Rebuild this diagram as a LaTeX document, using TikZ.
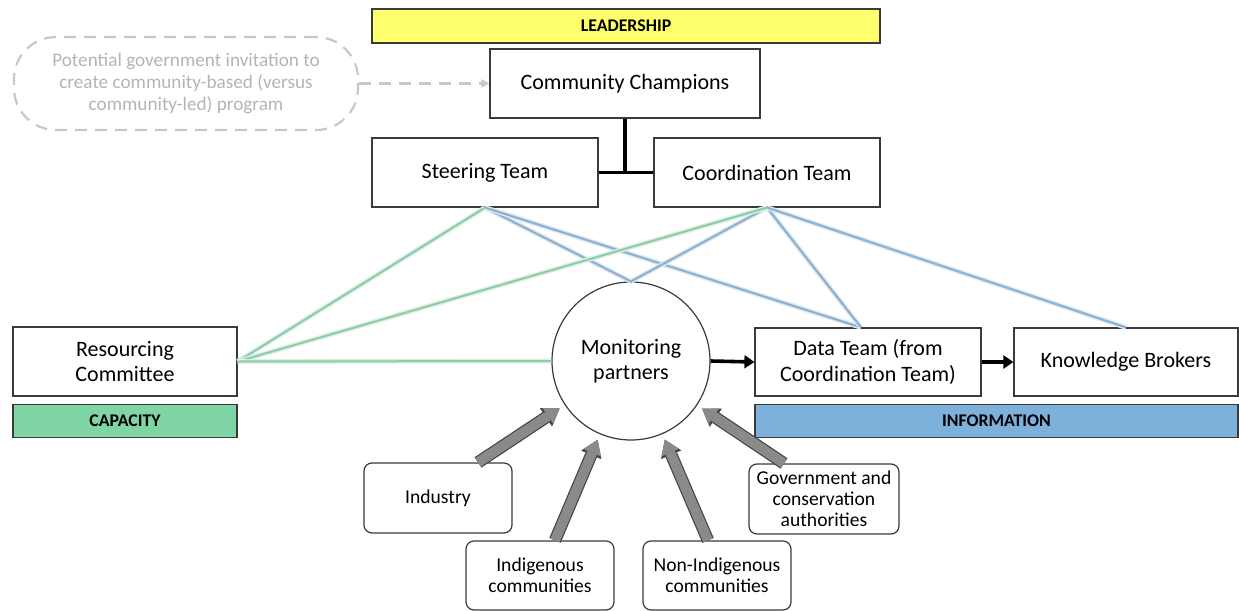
\documentclass[tikz,border=0pt]{standalone}
\usepackage{fontspec}
\setmainfont{Carlito}
\usetikzlibrary{arrows.meta,positioning,calc}
\definecolor{cLead}{HTML}{FFFF6E}
\definecolor{cCap}{HTML}{7FD5A3}
\definecolor{cInfo}{HTML}{7DB1DC}
\definecolor{cGreen}{HTML}{8CCCA6}
\definecolor{cBlue}{HTML}{8AB0D0}
\definecolor{cGhost}{HTML}{C8C8C8}
\definecolor{cGhostTxt}{HTML}{B4B4B4}
\definecolor{cArrow}{HTML}{8A8A8A}
\definecolor{cArrowEdge}{HTML}{444444}
\definecolor{cEdge}{HTML}{3A3A3A}

\begin{document}
\begin{tikzpicture}[
  x=0.5pt, y=-0.5pt,
  font=\fontsize{11}{12.6}\selectfont,
  box/.style={draw=cEdge, line width=0.6pt, fill=white, align=center, inner sep=2pt},
  bar/.style={draw=cEdge, line width=0.6pt, align=center, inner sep=0pt,
              minimum height=16.5pt, font=\fontsize{8.9}{10}\selectfont\bfseries},
  src/.style={box, rounded corners=4pt, minimum width=74pt, minimum height=35pt,
              font=\fontsize{9.8}{10.5}\selectfont},
  ghost/.style={draw=cGhost, line width=1.1pt, dash pattern=on 6pt off 4pt,
                rounded corners=21pt, text=cGhostTxt, align=center,
                minimum width=172pt, minimum height=46.5pt,
                font=\fontsize{9.6}{11.2}\selectfont},
  link/.style={line width=1.6pt, black},
  flow/.style={line width=1.8pt, black, -{Triangle[length=5pt,width=6.5pt]}},
  capline/.style={line width=1pt, draw=cGreen, preaction={draw=cGreen!30, line width=2.4pt}},
  infoline/.style={line width=1pt, draw=cBlue, preaction={draw=cBlue!30, line width=2.4pt}},
  bigarrow/.style={line width=5pt, draw=cArrow, shorten >=3pt,
                   -{Triangle[length=7pt,width=9.6pt,line width=0pt]},
                   preaction={draw=cArrowEdge, line width=6.2pt,
                              -{Triangle[length=8.2pt,width=11pt,line width=0pt]}}},
]
\useasboundingbox (0,0) rectangle (1239,611);

% ---------------- leadership ----------------
\node (lead) [bar, fill=cLead, minimum width=254pt, minimum height=17pt] at (626,26) {LEADERSHIP};
\node (cc) [box, minimum width=135pt, minimum height=34.5pt] at (625,83.5) {Community Champions};
\node (steer) [box, minimum width=113pt, minimum height=34.5pt] at (485,172.5) {Steering Team};
\node (coord) [box, minimum width=113pt, minimum height=34.5pt] at (767,172.5) {Coordination Team};

\coordinate (jn) at (cc.south |- steer.east);
\draw[link] (cc.south) -- (jn);
\draw[link] (steer.east) -- (coord.west);

% optional outside trigger
\node (invite) [ghost] at (186,83.5) {Potential government invitation to\\create community-based (versus\\community-led) program};
\draw[draw=cGhost, line width=1.1pt, dash pattern=on 6pt off 4pt,
      -{Triangle[length=4pt,width=4pt]}] (invite.east) -- (cc.west);

% ---------------- capacity ----------------
\node (rc) [box, minimum width=112pt, minimum height=34.5pt] at (125,361.5) {Resourcing\\Committee};
\node (cap) [bar, fill=cCap, minimum width=112pt, below=3.5pt of rc] {CAPACITY};

% ---------------- information ----------------
\node (dt) [box, minimum width=113pt, minimum height=34pt] at (868,362) {Data Team (from\\Coordination Team)};
\node (kb) [box, minimum width=112pt, minimum height=34pt] at (1126,362) {Knowledge Brokers};
\node (info) [bar, fill=cInfo, minimum width=241.5pt, below right=3.5pt and 0pt of dt.south west] {INFORMATION};

% ---------------- monitoring partners ----------------
\node (mp) [circle, draw=cEdge, line width=0.6pt, fill=white, minimum size=79pt, align=center]
  at (631,361) {Monitoring\\partners};

% links from the leadership teams
\coordinate (dtin) at ([xshift=-3.5pt]dt.north);
\draw[infoline] (steer.south) -- (mp.north);
\draw[infoline] (steer.south) -- (dtin);
\draw[infoline] (coord.south) -- (mp.north);
\draw[infoline] (coord.south) -- (dtin);
\draw[infoline] (coord.south) -- (kb.north);
\draw[capline] (rc.east) -- (steer.south);
\draw[capline] (rc.east) -- (coord.south);
\draw[capline] (rc.east) -- (mp.west);

\draw[flow] (mp.east) -- (dt.west);
\draw[flow] (dt.east) -- (kb.west);

% ---------------- partner sources ----------------
\node (ind)  [src] at (438,498) {Industry};
\node (indg) [src, minimum height=34.5pt] at (540,575.5) {Indigenous\\communities};
\node (nind) [src, minimum height=34.5pt] at (717,575.5) {Non-Indigenous\\communities};
\node (gov)  [src, minimum width=75pt] at (824,499) {Government and\\conservation\\authorities};

\draw[bigarrow] ([xshift=20pt]ind.north) -- (mp);
\draw[bigarrow] ([xshift=7.5pt]indg.north) -- (mp);
\draw[bigarrow] ([xshift=-4.5pt]nind.north) -- (mp);
\draw[bigarrow] ([xshift=-20pt]gov.north) -- (mp);

\end{tikzpicture}
\end{document}
